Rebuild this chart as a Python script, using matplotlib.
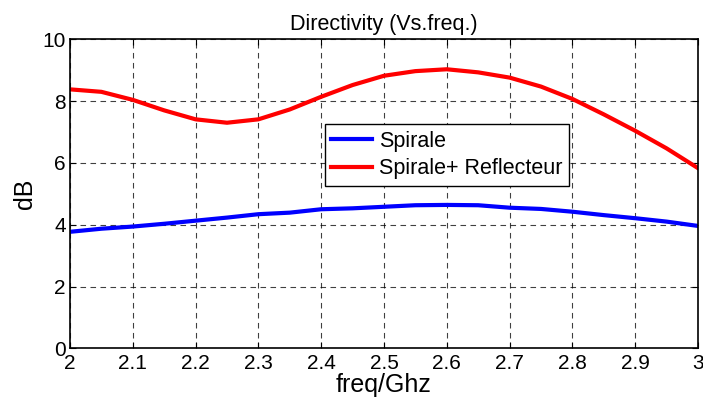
import matplotlib
matplotlib.use("Agg")
import matplotlib.pyplot as plt

freq = [2.0, 2.05, 2.1, 2.15, 2.2, 2.25, 2.3, 2.35, 2.4, 2.45, 2.5,
        2.55, 2.6, 2.65, 2.7, 2.75, 2.8, 2.85, 2.9, 2.95, 3.0]
spirale = [3.77, 3.87, 3.94, 4.03, 4.13, 4.23, 4.34, 4.39, 4.50, 4.53, 4.58,
           4.63, 4.64, 4.63, 4.55, 4.51, 4.42, 4.31, 4.21, 4.10, 3.96]
spirale_reflecteur = [8.38, 8.30, 8.04, 7.70, 7.41, 7.30, 7.41, 7.73, 8.14, 8.52, 8.82,
                      8.97, 9.03, 8.93, 8.76, 8.47, 8.07, 7.57, 7.04, 6.47, 5.83]
xticks = [2, 2.1, 2.2, 2.3, 2.4, 2.5, 2.6, 2.7, 2.8, 2.9, 3]
xticklabels = ["2", "2.1", "2.2", "2.3", "2.4", "2.5", "2.6", "2.7", "2.8", "2.9", "3"]
yticks = [0, 2, 4, 6, 8, 10]

plt.rcParams['font.family'] = ['Liberation Sans', 'DejaVu Sans']

fig = plt.figure(figsize=(7.03, 4.03), dpi=100)
ax = fig.add_axes([70/703, 1 - 348.3/403, 628/703, (348.3 - 39.3)/403])

ax.plot(freq, spirale, color='#0000ff', lw=3, label='Spirale')
ax.plot(freq, spirale_reflecteur, color='#ff0000', lw=3, label='Spirale+ Reflecteur')

ax.set_xlim(2, 3)
ax.set_ylim(0, 10)
ax.set_xticks(xticks)
ax.set_xticklabels(xticklabels)
ax.set_yticks(yticks)
ax.grid(True, color='black', linestyle=(0, (5, 4)), lw=0.8, alpha=0.75)
ax.tick_params(direction='in', top=True, right=True, labelsize=15, length=4,
               width=0.8)
ax.tick_params(axis='x', pad=4)
ax.tick_params(axis='y', pad=3)
for s in ax.spines.values():
    s.set_linewidth(1.2)

ax.set_title('Directivity (Vs.freq.)', fontsize=15.5, pad=7)
ax.set_xlabel('freq/Ghz', fontsize=18, labelpad=0)
ax.set_ylabel('dB', fontsize=18, labelpad=4)

leg = ax.legend(loc='upper left', bbox_to_anchor=(325/703, 1 - 124.3/403),
                bbox_transform=fig.transFigure, fontsize=15.5, frameon=True,
                fancybox=False, edgecolor='black', framealpha=1,
                handlelength=1.9, handletextpad=0.3, borderpad=0.3,
                labelspacing=0.3, borderaxespad=0)
leg.get_frame().set_linewidth(1.0)

fig.savefig('out.png', dpi=100)
